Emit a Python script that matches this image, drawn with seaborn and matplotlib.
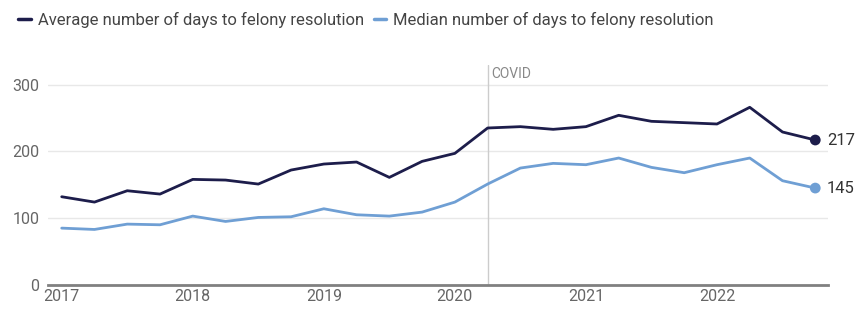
import matplotlib
matplotlib.use("Agg")
import matplotlib.pyplot as plt
import seaborn as sns
import pandas as pd

# quarterly data 2017 Q1 .. 2022 Q4
years = [2017, 2018, 2019, 2020, 2021, 2022]
quarters = [y + q / 4 for y in years for q in range(4)]
avg_days = [132, 124, 141, 136, 158, 157, 151, 172,
            181, 184, 161, 185, 197, 235, 237, 233,
            237, 254, 245, 243, 241, 266, 229, 217]
median_days = [85, 83, 91, 90, 103, 95, 101, 102,
               114, 105, 103, 109, 124, 151, 175, 182,
               180, 190, 176, 168, 180, 190, 156, 145]
series_names = ["Average number of days to felony resolution",
                "Median number of days to felony resolution"]
covid_x = 2020.25
y_ticks = [0, 100, 200, 300]

colors = ["#1d1d4b", "#6f9fd4"]

df = pd.DataFrame({
    "quarter": quarters * 2,
    "days": avg_days + median_days,
    "series": [series_names[0]] * len(quarters) + [series_names[1]] * len(quarters),
})

sns.set_theme(style="white")
plt.rcParams["font.family"] = ["Roboto", "DejaVu Sans"]

fig = plt.figure(figsize=(8.67, 3.12), dpi=100)
ax = fig.add_axes([0.055, 0.087, 0.9, 0.706])

sns.lineplot(data=df, x="quarter", y="days", hue="series", palette=colors,
             linewidth=2, ax=ax, legend=False)

# end points + value labels
last = df.groupby("series").tail(1)
sns.scatterplot(data=last, x="quarter", y="days", hue="series", palette=colors,
                s=60, edgecolor="none", ax=ax, legend=False, zorder=5)
for _, row in last.iterrows():
    ax.text(row["quarter"] + 0.09, row["days"], "{}".format(int(row["days"])),
            va="center", ha="left", fontsize=12, color="#333333")

# covid marker
ax.axvline(covid_x, color="#cccccc", lw=1, zorder=1)
ax.text(covid_x + 0.03, 316, "COVID", va="center", ha="left",
        fontsize=10, color="#888888")

ax.set_ylim(0, 330)
ax.set_xlim(2016.893, 2022.847)
ax.set_yticks(y_ticks)
ax.set_xticks(years)
ax.set_xticklabels([str(y) for y in years])
ax.set_xlabel("")
ax.set_ylabel("")
ax.tick_params(axis="both", length=0, labelsize=11.5, labelcolor="#666666")
ax.tick_params(axis="x", pad=3)
ax.tick_params(axis="y", pad=6)

for g in y_ticks[1:]:
    ax.axhline(g, color="#e8e8e8", lw=1, zorder=0)
for s in ["top", "right", "left"]:
    ax.spines[s].set_visible(False)
ax.spines["bottom"].set_color("#808080")
ax.spines["bottom"].set_linewidth(2)

# legend on top
handles = [plt.Line2D([], [], color=c, lw=2.5) for c in colors]
fig.legend(handles, series_names, loc="upper left", bbox_to_anchor=(0.004, 1.01),
           ncol=2, frameon=False, fontsize=12, handlelength=0.75,
           handletextpad=0.4, columnspacing=0.6, labelcolor="#444444")

fig.savefig("out.png", dpi=100)
